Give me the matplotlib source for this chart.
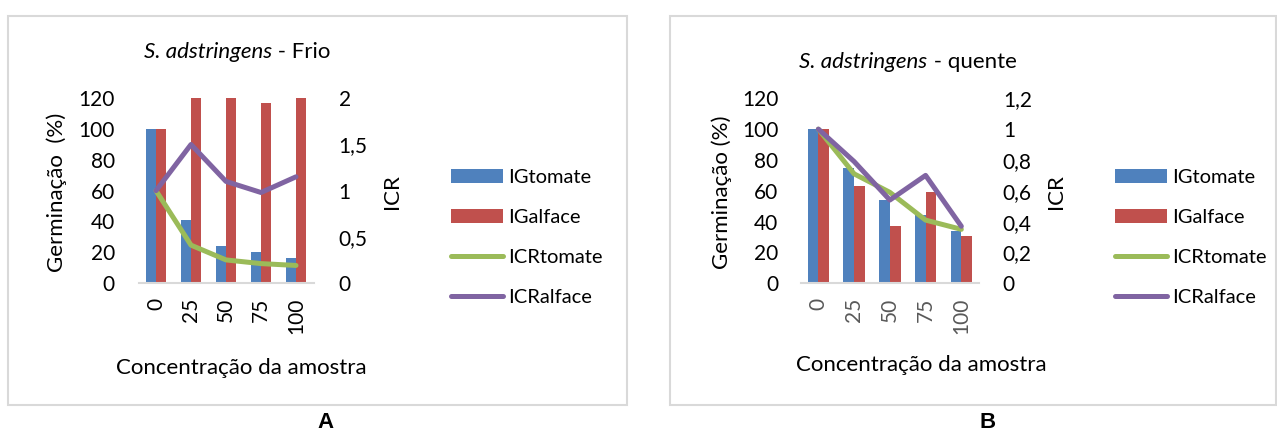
import matplotlib
matplotlib.use("Agg")
import matplotlib.pyplot as plt
from matplotlib.patches import Rectangle
import numpy as np

plt.rcParams['font.family'] = ['Lato', 'DejaVu Sans']

categories = ['0', '25', '50', '75', '100']

# Panel A (Frio)
a_igtomate = [100, 41, 24, 20, 16]
a_igalface = [100, 120, 120, 117, 120]
a_icrtomate = [1.0, 0.41, 0.25, 0.21, 0.19]
a_icralface = [1.0, 1.50, 1.10, 0.98, 1.15]

# Panel B (quente)
b_igtomate = [100, 75, 54, 44, 34]
b_igalface = [100, 63, 37, 59, 31]
b_icrtomate = [1.0, 0.71, 0.59, 0.41, 0.35]
b_icralface = [1.0, 0.79, 0.54, 0.70, 0.37]

C_BLUE = '#4f81bd'
C_RED = '#c0504d'
C_GREEN = '#9bbb59'
C_PURPLE = '#8064a2'
GRID = '#d9d9d9'

W, H = 1277, 433
fig = plt.figure(figsize=(W / 100, H / 100), dpi=100)


def fx(x):
    return x / W


def fy(y):
    return 1 - y / H


def px_axes(x0, x1, ytop, ybot):
    return fig.add_axes([fx(x0), fy(ybot), (x1 - x0) / W, (ybot - ytop) / H])


FS = 16
TFS = 15
LFS = 14.5

titles = []


def panel(x0, x1, ytop, ybot, ig_t, ig_a, icr_t, icr_a, rmax, rstep,
          title_rest, title_cx, title_y, ylab, ylab_x, icr_x, xlab_x, xlab_y,
          leg_x, letter, letter_x, frame, bw, lpad, rpad, xtick_color):
    fr = Rectangle((fx(frame[0]), fy(frame[3])), (frame[1] - frame[0]) / W,
                   (frame[3] - frame[2]) / H, transform=fig.transFigure,
                   fill=False, edgecolor=GRID, linewidth=1.5)
    fig.patches.append(fr)

    ax = px_axes(x0, x1, ytop, ybot)
    x = np.arange(len(categories))
    b1 = ax.bar(x - bw / 2, ig_t, width=bw, color=C_BLUE, label='IGtomate')
    b2 = ax.bar(x + bw / 2, ig_a, width=bw, color=C_RED, label='IGalface')
    ax.set_xlim(-0.5, len(categories) - 0.5)
    ax.set_ylim(0, 120)
    ax.set_yticks(np.arange(0, 121, 20))
    ax.set_xticks(x)
    ax.set_xticklabels(categories, rotation=90, fontsize=TFS, color=xtick_color)
    for s in ['top', 'right', 'left']:
        ax.spines[s].set_visible(False)
    ax.spines['bottom'].set_color(GRID)
    ax.spines['bottom'].set_linewidth(1.5)
    ax.tick_params(axis='both', length=0, labelsize=TFS)
    ax.tick_params(axis='y', pad=lpad)
    ax.tick_params(axis='x', pad=10.5)

    ax2 = ax.twinx()
    l1, = ax2.plot(x, icr_t, color=C_GREEN, lw=3.6, solid_capstyle='round',
                   solid_joinstyle='round', label='ICRtomate')
    l2, = ax2.plot(x, icr_a, color=C_PURPLE, lw=3.6, solid_capstyle='round',
                   solid_joinstyle='round', label='ICRalface')
    ax2.set_ylim(0, rmax)
    ticks = np.round(np.arange(0, rmax + 1e-9, rstep), 3)
    ax2.set_yticks(ticks)
    ax2.set_yticklabels([('%g' % t).replace('.', ',') for t in ticks])
    for s in ['top', 'right', 'left', 'bottom']:
        ax2.spines[s].set_visible(False)
    ax2.tick_params(axis='y', length=0, labelsize=TFS, pad=rpad)

    t1 = fig.text(fx(title_cx), fy(title_y), 'S. adstringens', style='italic',
                  fontsize=FS, ha='left', va='baseline')
    t2 = ax.annotate(title_rest, xy=(1, 0), xycoords=t1, fontsize=FS,
                     ha='left', va='bottom')
    titles.append((t1, t2, title_cx, title_y))

    fig.text(fx(ylab_x), fy(192), ylab, rotation=90,
             fontsize=FS, ha='center', va='center')
    fig.text(fx(icr_x), fy(192), 'ICR', rotation=90,
             fontsize=FS, ha='center', va='center')
    fig.text(fx(xlab_x), fy(xlab_y), 'Concentração da amostra',
             fontsize=FS, ha='center', va='center')
    fig.legend(handles=[b1, b2, l1, l2], loc='center left',
               bbox_to_anchor=(fx(leg_x), fy(237.5)), frameon=False,
               fontsize=LFS, handlelength=2.6, handletextpad=0.27,
               labelspacing=1.15, borderpad=0, borderaxespad=0)
    fig.text(fx(letter_x), fy(423), letter, fontsize=16, fontweight='bold',
             family='Liberation Sans', ha='center', va='center')


panel(138.5, 313.5, 98.3, 283.0, a_igtomate, a_igalface, a_icrtomate,
      a_icralface, 2.0, 0.5, ' - Frio', 237, 58,
      'Germinação  (%)', 57, 391.5, 241, 368, 450.5, 'A', 325.5,
      (8.3, 626.7, 16, 405), 0.286, 17, 18, 'black')

panel(800.5, 979.2, 98.3, 283.3, b_igtomate, b_igalface, b_icrtomate,
      b_icralface, 1.2, 0.2, ' - quente', 908, 68,
      'Germinação (%)', 721.3, 1056.4, 921.4, 365, 1114.5, 'B', 987.3,
      (670, 1276, 16, 405), 0.30, 16, 17, '#595959')

# center the two-part titles
fig.canvas.draw()
r = fig.canvas.get_renderer()
for t1, t2, cx, ty in titles:
    w = t1.get_window_extent(r).width + t2.get_window_extent(r).width
    t1.set_x(fx(cx - w / 2))

fig.savefig('out.png', dpi=100)
